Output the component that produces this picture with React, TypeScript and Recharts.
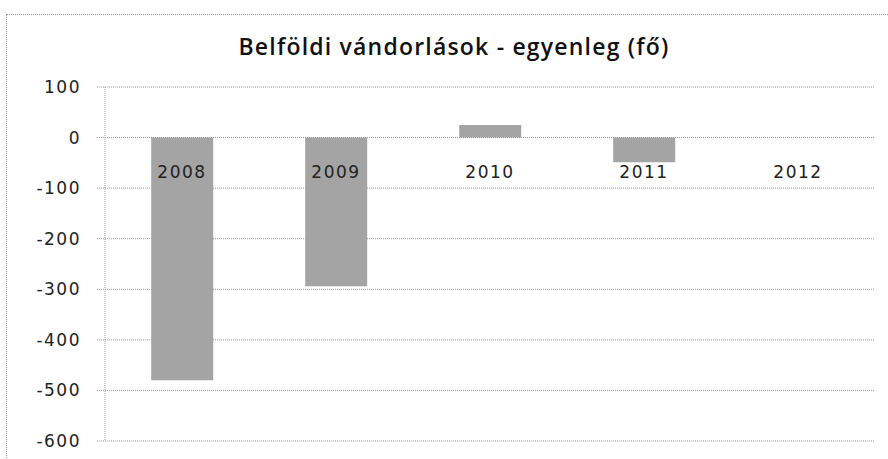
import React from 'react';
import { BarChart, Bar, XAxis, YAxis, CartesianGrid, ReferenceLine, ReferenceDot } from 'recharts';

const years = ['2008', '2009', '2010', '2011', '2012'];
const balance = [-480, -294, 25, -49, 0];
const yTicks = [100, 0, -100, -200, -300, -400, -500, -600];

const data = years.map((year, i) => ({ year, value: balance[i] }));

// category label sits just under the zero line, like Excel's "next to axis"
const yearLabel = (year: string) => (props: any) => (
  <text
    x={props.cx}
    y={props.cy + 35}
    textAnchor="middle"
    dominantBaseline="middle"
    fontFamily="DejaVu Sans"
    fontSize={17}
    letterSpacing={1.5}
    fill="#222"
  >
    {year}
  </text>
);

export default function App() {
  return (
    <div style={{ position: 'absolute', left: 0, top: 0, width: 888, height: 459, background: '#fff', overflow: 'hidden' }}>
      <div style={{ position: 'absolute', left: 6, top: 14, width: 900, height: 460, border: '1px dotted #999' }} />
      <div
        style={{
          position: 'absolute', left: 0, top: 30, width: 908, textAlign: 'center',
          fontFamily: '"Open Sans"', fontWeight: 600, fontSize: 23, color: '#111', letterSpacing: 1.2,
        }}
      >
        Belföldi vándorlások - egyenleg (fő)
      </div>
      <div style={{ position: 'absolute', left: 0, top: 0 }}>
        <BarChart width={888} height={459} data={data} margin={{ top: 87, right: 13, bottom: 18, left: 0 }} barCategoryGap="30%">
          <CartesianGrid vertical={false} stroke="#999" strokeDasharray="1 1" />
          <XAxis dataKey="year" hide />
          <YAxis
            width={105}
            domain={[-600, 100]}
            ticks={yTicks}
            interval={0}
            axisLine={{ stroke: '#999', strokeDasharray: '1 1' }}
            tickLine={{ stroke: '#999', strokeDasharray: '1 1' }}
            tickSize={8}
            tickMargin={16}
            tick={{ fontFamily: 'DejaVu Sans', fontSize: 17, fill: '#222', letterSpacing: 1.5 }}
          />
          <ReferenceLine y={0} stroke="#999" strokeDasharray="1 1" />
          <Bar dataKey="value" fill="#a4a4a4" isAnimationActive={false} />
          {years.map((year) => (
            <ReferenceDot key={year} x={year} y={0} r={0} shape={yearLabel(year)} />
          ))}
        </BarChart>
      </div>
    </div>
  );
}
